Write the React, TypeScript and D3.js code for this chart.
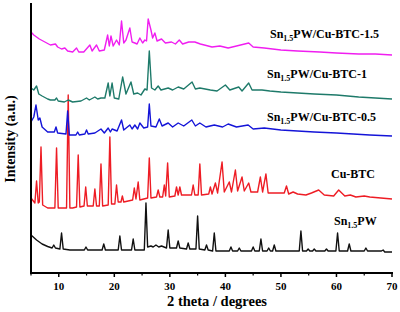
import React from "react";
import * as d3 from "d3";

type Pt = [number, number];

const xTicks = [10, 20, 30, 40, 50, 60, 70];
const xMinorTicks = [5, 15, 25, 35, 45, 55, 65];

// Sn1.5PW (black)
const snPW: Pt[] = [
  [5, 37], [6, 32], [7, 28], [8, 25.5], [8.8, 24], [9.1, 27], [9.4, 24], [10.2, 23], [10.5, 39], [10.8, 23],
  [12, 22], [13.5, 22], [14.6, 22], [14.9, 25], [15.2, 22], [16.5, 22], [17.8, 22], [18.1, 28], [18.4, 22],
  [20.7, 22], [21.0, 36], [21.3, 22], [22, 22], [23.1, 22], [23.4, 33], [23.7, 22], [25.4, 22], [25.7, 69],
  [26.0, 25], [26.6, 26], [27, 25], [27.5, 27], [28, 25], [28.5, 26], [29.4, 24], [29.7, 42], [30.0, 24],
  [31.2, 24], [31.5, 31], [31.8, 24], [33.0, 23], [33.3, 29], [33.6, 23], [34.7, 23], [35.0, 56], [35.3, 23],
  [36.3, 22], [36.6, 27], [36.9, 22], [37.7, 21], [38.0, 39], [38.3, 21], [40.7, 21], [41.0, 25], [41.3, 21],
  [42.2, 21], [42.5, 24], [42.8, 21], [44.7, 21], [45.0, 25], [45.3, 21], [46.1, 21], [46.4, 33], [46.7, 21],
  [47.5, 21], [47.8, 24], [48.1, 21], [48.5, 21], [48.8, 27], [49.1, 21], [53.3, 21], [53.6, 41], [53.9, 21],
  [54.6, 21], [54.9, 23], [55.2, 21], [55.7, 21], [56, 23], [56.3, 21], [57.9, 21], [58.2, 23], [58.5, 21],
  [59.9, 21], [60.2, 39], [60.5, 21], [62.0, 21], [62.3, 28], [62.6, 21], [65.0, 21], [65.3, 24], [65.6, 21],
  [68.1, 21], [68.4, 22], [68.7, 20], [70, 20],
];

// Cu-BTC (red)
const cuBTC: Pt[] = [
  [5, 74], [5.7, 69], [6.0, 91], [6.3, 69], [6.5, 70], [6.8, 125], [7.1, 67], [8, 64], [9.3, 64], [9.6, 124],
  [9.9, 64], [11.4, 64], [11.7, 177], [12.0, 64], [12.5, 64], [13.2, 65], [13.5, 117], [13.8, 65], [14.55, 66],
  [14.85, 85], [15.15, 66], [16.2, 66], [16.5, 83], [16.8, 66], [17.3, 66], [17.6, 108], [17.9, 66], [18.9, 67],
  [19.2, 135], [19.5, 68], [20.1, 68], [20.4, 87], [20.7, 70], [21.2, 70], [21.45, 76], [21.7, 70], [23.3, 72],
  [23.6, 84], [23.9, 73], [24.3, 90], [24.6, 72], [26.0, 74], [26.3, 114], [26.6, 74], [27.6, 75], [27.9, 82],
  [28.2, 75], [28.7, 75], [29.0, 87], [29.25, 76], [29.6, 109], [29.9, 75], [30.9, 76], [31.2, 85], [31.5, 77],
  [31.8, 85], [32.1, 77], [33.9, 77], [34.2, 87], [34.5, 77], [35.1, 77], [35.4, 108], [35.7, 77], [37.0, 78],
  [37.3, 85], [37.6, 78], [38.2, 89], [38.6, 79], [39.4, 110], [39.8, 80], [40.7, 90], [41.1, 80], [41.8, 102],
  [42.2, 81], [43.0, 95], [43.4, 81], [44.2, 89], [44.6, 80], [45.8, 80], [46.3, 95], [46.7, 80], [47.3, 98],
  [47.7, 79], [49, 79], [50.6, 79], [51.0, 86], [51.4, 78], [52.2, 80], [53, 78], [54.5, 77], [55.5, 79],
  [56.8, 82], [57.8, 77], [59.5, 76], [60.4, 82], [61.5, 76], [62.5, 77], [63.5, 75], [65, 76], [66, 75],
  [68, 74], [70, 73],
];

// Sn1.5PW/Cu-BTC-0.5 (blue)
const cuBTC05: Pt[] = [
  [5, 150], [5.5, 155], [5.9, 167], [6.3, 152], [6.6, 154], [7, 145], [8, 140], [9.2, 140], [9.5, 145],
  [9.8, 139], [11.3, 138], [11.6, 161], [11.9, 137], [13.1, 137], [13.4, 140], [13.7, 137], [14.7, 138],
  [15, 142], [15.3, 138], [16.5, 139], [17.6, 143], [18.2, 139], [18.9, 144], [19.3, 140], [19.6, 143],
  [20.5, 141], [21.3, 152], [21.7, 142], [22.8, 147], [23.2, 143], [23.7, 147], [24.2, 143], [24.6, 149],
  [25.3, 144], [26.0, 145], [26.3, 168], [26.6, 146], [27.5, 145], [28.1, 153], [28.6, 146], [29.7, 149],
  [30.5, 145], [31.5, 149], [32.5, 146], [33.95, 152], [34.6, 146], [35.4, 149], [36.5, 145], [38, 147],
  [39.5, 145], [40.5, 148], [42, 145], [44.1, 147], [45, 143], [47, 144], [50, 142], [53, 141], [56, 140],
  [60, 139], [63, 138], [66, 137], [70, 136],
];

// Sn1.5PW/Cu-BTC-1 (teal)
const cuBTC1: Pt[] = [
  [5, 184], [5.5, 182], [6.0, 186], [6.4, 178], [7, 176], [8, 173], [8.5, 172], [9.3, 172], [9.6, 174],
  [9.9, 171], [11, 170], [11.7, 172], [12.5, 170], [14, 171], [15, 174], [15.5, 172], [16.5, 175], [17, 173],
  [17.6, 174], [18.3, 174], [18.9, 189], [19.2, 176], [19.6, 189], [20, 174], [20.8, 173], [21.5, 195],
  [22.1, 178], [23.0, 190], [23.5, 178], [24.2, 179], [24.8, 177], [25.5, 183], [25.9, 182], [26.3, 221],
  [26.7, 184], [27.3, 182], [27.9, 186], [28.4, 182], [29.7, 184], [30.5, 182], [31.5, 185], [32.5, 183],
  [34, 190], [34.6, 183], [35.4, 184], [37.3, 182], [38.5, 181], [40, 187], [40.8, 182], [42.4, 185],
  [43, 181], [44.2, 189], [44.8, 182], [46.6, 182], [48, 181], [50, 180], [53, 179], [56, 178], [60, 177],
  [64, 175], [67, 174], [70, 173],
];

// Sn1.5PW/Cu-BTC-1.5 (magenta)
const cuBTC15: Pt[] = [
  [5, 240], [5.5, 237], [6.5, 233], [7.5, 230], [8.5, 227], [9.4, 228], [9.8, 225], [10.5, 223], [11.1, 224],
  [11.6, 221], [12.5, 220], [13.2, 224], [13.6, 220], [14.5, 220], [15.6, 227], [16, 221], [16.8, 227],
  [17.3, 221], [18.2, 222], [18.8, 237], [19.1, 226], [19.4, 236], [19.8, 226], [20.4, 232], [20.9, 227],
  [21.3, 251], [21.7, 229], [22.1, 232], [22.8, 244], [23.2, 230], [23.7, 229], [24.1, 228], [24.6, 234],
  [25.1, 229], [25.5, 232], [25.8, 231], [26.1, 253], [26.6, 242], [26.9, 234], [27.3, 239], [27.7, 231],
  [28.5, 233], [29.2, 229], [30.3, 230], [31.0, 228], [31.7, 232], [32.3, 228], [33.4, 230], [34.5, 230],
  [35.5, 228], [37.6, 225], [39, 226], [40.5, 224], [42, 226], [44.2, 229], [45, 225], [47, 224], [50, 222],
  [53, 221], [57, 220], [60, 219], [64, 218], [67, 218], [70, 217],
];

const seriesList = [
  { name: "Sn1.5PW", data: snPW, color: "#111111" },
  { name: "Cu-BTC", data: cuBTC, color: "#ee1c24" },
  { name: "Sn1.5PW/Cu-BTC-0.5", data: cuBTC05, color: "#1414d8" },
  { name: "Sn1.5PW/Cu-BTC-1", data: cuBTC1, color: "#1e7a6a" },
  { name: "Sn1.5PW/Cu-BTC-1.5", data: cuBTC15, color: "#f01ef0" },
];

// label layout: [prefix, subscript, suffix, x, y]
const labels: [string, string, string, number, number][] = [
  ["Sn", "1.5", "PW/Cu-BTC-1.5", 270, 37.5],
  ["Sn", "1.5", "PW/Cu-BTC-1", 267, 78],
  ["Sn", "1.5", "PW/Cu-BTC-0.5", 267, 121],
  ["Cu-BTC", "", "", 331, 177.5],
  ["Sn", "1.5", "PW", 334, 225],
];

const W = 400;
const H = 312;
const FONT = "'Liberation Serif', 'Times New Roman', serif";

export default function App() {
  const x = d3.scaleLinear().domain([5, 70]).range([31, 392]);
  const y = d3.scaleLinear().domain([-1, 270]).range([273, 2]);
  const line = d3
    .line<Pt>()
    .x((d) => x(d[0]))
    .y((d) => y(d[1]));
  const y0 = y(-1);

  return (
    <div style={{ position: "absolute", left: 0, top: 0 }}>
      <svg width={W} height={H} style={{ display: "block", background: "#fff" }}>
        {seriesList.map((s) => (
          <path
            key={s.name}
            d={line(s.data) || ""}
            fill="none"
            stroke={s.color}
            strokeWidth={1.4}
            strokeLinejoin="round"
          />
        ))}
        {/* axes */}
        <line x1={x(5)} x2={x(5)} y1={3} y2={y0 + 1} stroke="#000" strokeWidth={2} />
        <line x1={x(5) - 1} x2={x(70) + 1} y1={y0} y2={y0} stroke="#000" strokeWidth={2} />
        {xTicks.map((t) => (
          <line key={"t" + t} x1={x(t)} x2={x(t)} y1={y0} y2={y0 + 4} stroke="#000" strokeWidth={1.5} />
        ))}
        {xMinorTicks.map((t) => (
          <line key={"m" + t} x1={x(t)} x2={x(t)} y1={y0} y2={y0 + 2.5} stroke="#000" strokeWidth={1.2} />
        ))}
        {xTicks.map((t) => (
          <text
            key={"l" + t}
            x={x(t)}
            y={290}
            textAnchor="middle"
            fontFamily={FONT}
            fontWeight="bold"
            fontSize={11}
            fill="#000"
          >
            {t}
          </text>
        ))}
        <text
          x={217}
          y={306}
          textAnchor="middle"
          fontFamily={FONT}
          fontWeight="bold"
          fontSize={14.5}
          fill="#000"
        >
          2 theta / degrees
        </text>
        <text
          transform="translate(15,139) rotate(-90)"
          textAnchor="middle"
          fontFamily={FONT}
          fontWeight="bold"
          fontSize={14}
          fill="#000"
        >
          Intensity (a.u.)
        </text>
        {labels.map(([a, sub, b, lx, ly]) => (
          <text
            key={a + sub + b}
            x={lx}
            y={ly}
            fontFamily={FONT}
            fontWeight="bold"
            fontSize={12}
            fill="#000"
          >
            {a}
            {sub && (
              <tspan fontSize={8} dy={3}>
                {sub}
              </tspan>
            )}
            {b && <tspan dy={sub ? -3 : 0}>{b}</tspan>}
          </text>
        ))}
      </svg>
    </div>
  );
}
